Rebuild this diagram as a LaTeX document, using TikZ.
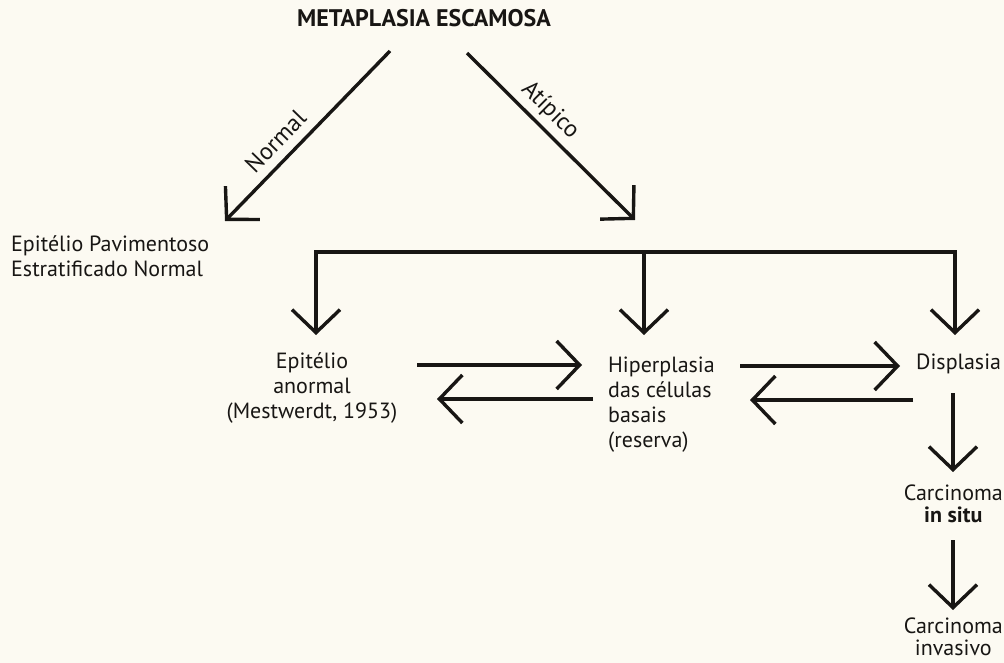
\documentclass[tikz,border=0pt]{standalone}
\usepackage{fontspec}
\setmainfont{PT Sans}
\usetikzlibrary{arrows.meta}
\definecolor{paper}{RGB}{252,250,242}
\definecolor{ink}{RGB}{24,22,20}
\tikzset{
  box/.style={inner sep=0pt, text=ink, font=\fontsize{22}{25}\selectfont},
  titlebox/.style={inner sep=0pt, text=ink, font=\fontsize{24}{28}\selectfont\bfseries},
  tag/.style={inner sep=0pt, text=ink, font=\fontsize{24}{28}\selectfont},
  flow/.style={draw=ink, line width=3.4pt, line join=miter,
    -{Straight Barb[length=23pt,width=48pt]}},
  twoflow/.style={flow, {Straight Barb[length=23pt,width=48pt]}-{Straight Barb[length=23pt,width=48pt]}}
}

\begin{document}
\begin{tikzpicture}[x=1pt,y=-1pt]
\fill[paper] (0,0) rectangle (1004,663);
\useasboundingbox (0,0) rectangle (1004,663);

% texts
\node[titlebox] (meta) at (424,18) {METAPLASIA ESCAMOSA};
\node[box, anchor=west, align=left] (normal) at (11,256) {Epitélio Pavimentoso\\Estratificado Normal};
\node[box, align=center] (epi) at (312,388) {Epitélio\\anormal\\(Mestwerdt, 1953)};
\node[box, anchor=west, align=left] (hip) at (608,405) {Hiperplasia\\das células\\basais\\(reserva)};
\node[box, anchor=base west] (disp) at (916,369) {Displasia};
\node[box, align=center, anchor=north east] (cis) at (1003,485) {Carcinoma\\[-3pt]\textbf{in situ}};
\node[box, align=center, anchor=north east] (inv) at (1003,618) {Carcinoma\\[-3pt]invasivo};

% points of the connectors
\coordinate (n0) at (390,51);  \coordinate (n1) at (225,221);
\coordinate (a0) at (467,53);  \coordinate (a1) at (635,220);
\coordinate (b1) at (316,252); \coordinate (b2) at (644,252); \coordinate (b3) at (955,252);
\coordinate (d1) at (316,335); \coordinate (d2) at (644,335); \coordinate (d3) at (955,335);
\coordinate (e1) at (417,365); \coordinate (h1) at (582,365);
\coordinate (h2) at (593,399); \coordinate (e2) at (437,399);
\coordinate (h3) at (740,366); \coordinate (s1) at (900,366);
\coordinate (s2) at (913,400); \coordinate (h4) at (750,400);
\coordinate (s3) at (953,393); \coordinate (c1) at (953,472);
\coordinate (c2) at (953,540); \coordinate (i1) at (953,610);

% arrows
\draw[flow] (n0) -- node[tag, sloped, above=9pt, pos=0.61] {Normal} (n1);
\draw[flow] (a0) -- node[tag, sloped, above=5pt, pos=0.42] {Atípico} (a1);
\draw[twoflow] (d1) -- (b1) -- (b3) -- (d3);
\draw[flow] (b2) -- (d2);
\draw[flow] (e1) -- (h1);
\draw[flow] (h2) -- (e2);
\draw[flow] (h3) -- (s1);
\draw[flow] (s2) -- (h4);
\draw[flow] (s3) -- (c1);
\draw[flow] (c2) -- (i1);
\end{tikzpicture}
\end{document}
